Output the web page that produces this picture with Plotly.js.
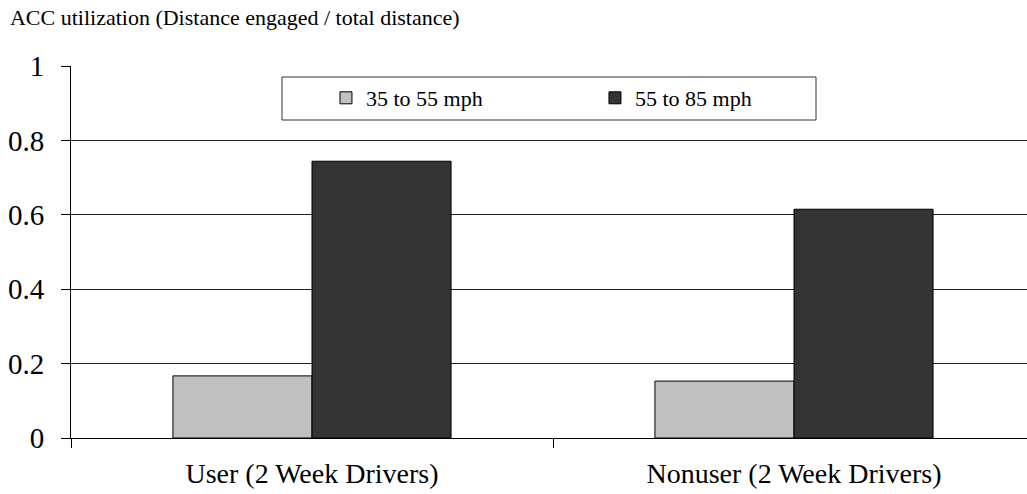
<!DOCTYPE html>
<html>
<head>
<meta charset="utf-8">
<script src="https://cdn.plot.ly/plotly-3.0.1.min.js"></script>
<style>
  html, body { margin: 0; padding: 0; background: #fff; }
  #chart { width: 1027px; height: 494px; }
</style>
</head>
<body>
<div id="chart"></div>
<script>
const categories = ["User (2 Week Drivers)", "Nonuser (2 Week Drivers)"];
const seriesNames = ["35 to 55 mph", "55 to 85 mph"];
const lowSpeed = [0.167, 0.153];
const highSpeed = [0.744, 0.615];
const yTickValues = [0, 0.2, 0.4, 0.6, 0.8, 1];
const yTickLabels = ["0", "0.2", "0.4", "0.6", "0.8", "1"];

const FONT_FAMILY = "Liberation Serif";

const traces = [
  {
    type: "bar", name: seriesNames[0], x: categories, y: lowSpeed,
    marker: { color: "#c0c0c0", line: { color: "#000", width: 1 } },
    hoverinfo: "skip"
  },
  {
    type: "bar", name: seriesNames[1], x: categories, y: highSpeed,
    marker: { color: "#333333", line: { color: "#000", width: 1 } },
    hoverinfo: "skip"
  }
];

const layout = {
  width: 1027, height: 494,
  paper_bgcolor: "#fff", plot_bgcolor: "#fff",
  margin: { l: 71, r: 0, t: 66, b: 56 },
  font: { family: FONT_FAMILY, size: 22, color: "#000" },
  barmode: "group",
  bargap: 0.423,
  bargroupgap: 0,
  title: {
    text: "ACC utilization (Distance engaged / total distance)",
    font: { family: FONT_FAMILY, size: 22, color: "#000" },
    x: 0.0097, xanchor: "left", xref: "container",
    y: 0.98, yanchor: "top", yref: "container"
  },
  xaxis: {
    type: "category",
    range: [-0.5, 1.4834],
    showgrid: false,
    showline: true, linecolor: "#000", linewidth: 1,
    ticks: "outside", ticklen: 9, tickcolor: "#000", tickwidth: 1,
    tickson: "boundaries",
    ticklabelstandoff: 10,
    tickfont: { family: FONT_FAMILY, size: 28, color: "#000" },
    fixedrange: true
  },
  yaxis: {
    range: [0, 1],
    tickvals: yTickValues, ticktext: yTickLabels,
    showgrid: true, gridcolor: "#222", gridwidth: 1,
    zeroline: false,
    showline: true, linecolor: "#000", linewidth: 1,
    ticks: "outside", ticklen: 9, tickcolor: "#000", tickwidth: 1,
    ticklabelstandoff: 11,
    tickfont: { family: FONT_FAMILY, size: 29, color: "#000" },
    fixedrange: true
  },
  shapes: [
    {
      type: "rect", xref: "paper", yref: "paper",
      x0: 0.2207, x1: 0.7793, y0: 0.8548, y1: 0.9704,
      line: { color: "#333", width: 1 }, fillcolor: "rgba(255,255,255,0)",
      layer: "above"
    }
  ],
  showlegend: true,
  legend: {
    orientation: "h",
    x: 0.2667, xanchor: "left", xref: "paper",
    y: 0.9704, yanchor: "top", yref: "paper",
    bgcolor: "rgba(255,255,255,0)", borderwidth: 0,
    font: { family: FONT_FAMILY, size: 22, color: "#000" },
    entrywidth: 224, entrywidthmode: "pixels",
    traceorder: "normal"
  }
};

Plotly.newPlot("chart", traces, layout, { displayModeBar: false, staticPlot: true });
</script>
</body>
</html>
